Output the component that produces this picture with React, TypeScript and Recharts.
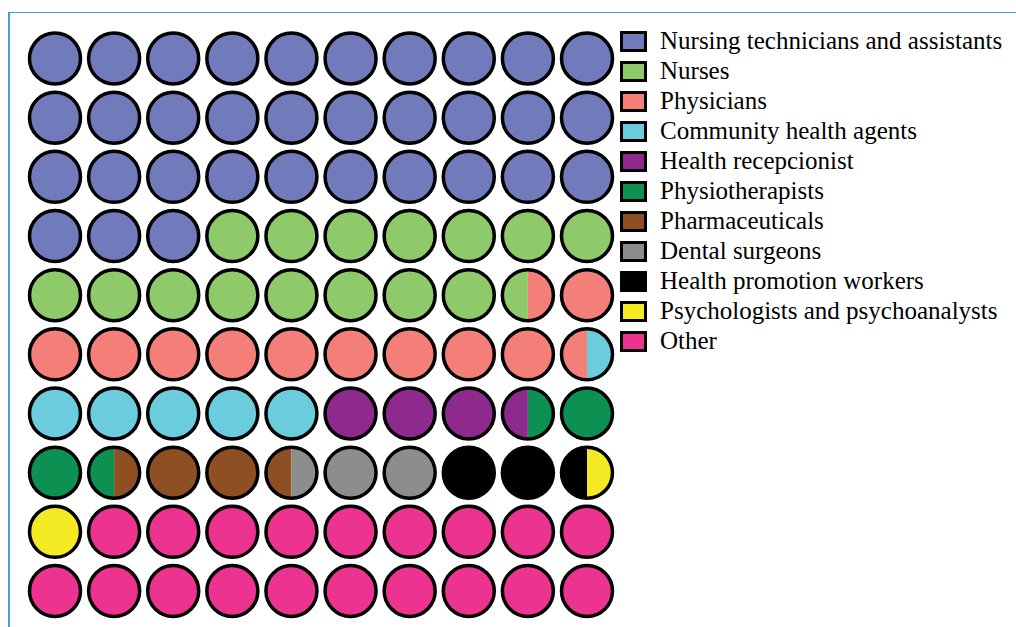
import { ScatterChart, Scatter, XAxis, YAxis } from 'recharts';

// waffle 10x10, counted in half circles (2 = one whole circle)
const categories = [
  'Nursing technicians and assistants',
  'Nurses',
  'Physicians',
  'Community health agents',
  'Health recepcionist',
  'Physiotherapists',
  'Pharmaceuticals',
  'Dental surgeons',
  'Health promotion workers',
  'Psychologists and psychoanalysts',
  'Other',
];
const halfCounts = [66, 31, 22, 11, 7, 6, 6, 5, 5, 3, 38];
const colors = [
  '#717bbb',
  '#8fca6a',
  '#f47e78',
  '#6accdc',
  '#8e2a8e',
  '#0c9152',
  '#8e5023',
  '#8d8d8d',
  '#000000',
  '#f3ea24',
  '#ec3390',
];

const COLS = 10;
const R = 25.5;
const SERIF = '"Liberation Serif", "Times New Roman", Times, serif';

interface Cell {
  col: number;
  row: number;
  left: string;
  right: string;
}

// walk halves left->right, row by row
const halves: string[] = [];
halfCounts.forEach((n, i) => {
  for (let k = 0; k < n; k++) halves.push(colors[i]);
});
const cells: Cell[] = [];
for (let i = 0; i < halves.length; i += 2) {
  const idx = i / 2;
  cells.push({
    col: idx % COLS,
    row: Math.floor(idx / COLS),
    left: halves[i],
    right: halves[i + 1] ?? halves[i],
  });
}

function Dot(props: any) {
  const { cx, cy, payload } = props;
  const c = payload as Cell;
  if (c.left === c.right) {
    return <circle cx={cx} cy={cy} r={R} fill={c.left} stroke="#000" strokeWidth={3.5} />;
  }
  return (
    <g>
      <path d={`M${cx},${cy - R} A${R},${R} 0 0 0 ${cx},${cy + R} Z`} fill={c.left} />
      <path d={`M${cx},${cy - R} A${R},${R} 0 0 1 ${cx},${cy + R} Z`} fill={c.right} />
      <circle cx={cx} cy={cy} r={R} fill="none" stroke="#000" strokeWidth={3.5} />
    </g>
  );
}

function WaffleLegend() {
  return (
    <svg width={396} height={340} style={{ display: 'block', fontFamily: SERIF }}>
      {categories.map((name, i) => (
        <g key={name}>
          <rect x={1.5} y={7.5 + 30 * i} width={24} height={18} fill={colors[i]} stroke="#000" strokeWidth={3} />
          <text x={40} y={24 + 30 * i} style={{ fontFamily: SERIF, fontSize: 25 }} fill="#000">
            {name}
          </text>
        </g>
      ))}
    </svg>
  );
}

export default function App() {
  return (
    <div
      style={{
        position: 'absolute',
        left: 8,
        top: 12,
        width: 1006,
        height: 614,
        borderLeft: '2px solid #4a9ad6',
        borderTop: '1px solid #4a9ad6',
        background: '#fff',
      }}
    >
      <ScatterChart width={1006} height={614} margin={{ top: 45.5, left: 45, right: 429, bottom: 36 }}>
        <XAxis type="number" dataKey="col" domain={[0, 9]} hide />
        <YAxis type="number" dataKey="row" domain={[0, 9]} reversed hide />
        <Scatter data={cells} shape={Dot} isAnimationActive={false} />
      </ScatterChart>
      <div style={{ position: 'absolute', left: 610, top: 12 }}>
        <WaffleLegend />
      </div>
    </div>
  );
}
